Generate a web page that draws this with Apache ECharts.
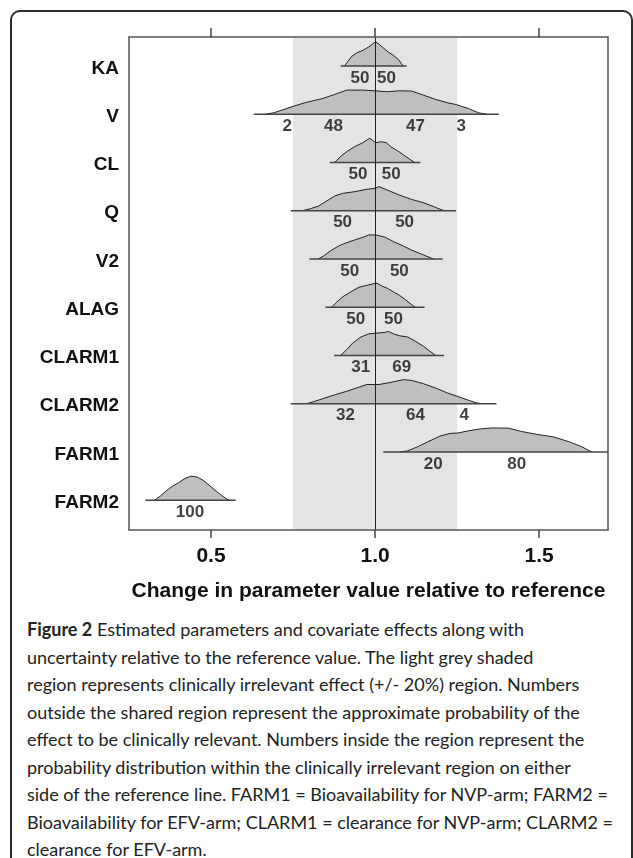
<!DOCTYPE html>
<html>
<head>
<meta charset="utf-8">
<script src="https://cdn.jsdelivr.net/npm/echarts@6/dist/echarts.min.js"></script>
<style>
  html, body { margin: 0; padding: 0; background: #fff; }
  body { width: 633px; height: 858px; position: relative; overflow: hidden; }
  #frame {
    position: absolute; left: 10px; top: 10px; width: 623px; height: 900px;
    border: 2px solid #2a2a2a; border-radius: 10px; box-sizing: border-box;
  }
  #chart { position: absolute; left: 0; top: 0; width: 633px; height: 615px; }
  #caption {
    position: absolute; left: 27px; top: 616px; width: 600px;
    font-family: Lato, 'Open Sans', sans-serif; font-size: 18px;
    line-height: 27.5px; color: #222; white-space: nowrap;
  }
  #caption b { font-weight: 700; }
</style>
</head>
<body>
<div id="frame"></div>
<div id="chart"></div>
<div id="caption">
  <div><b>Figure 2</b> Estimated parameters and covariate effects along with</div>
  <div>uncertainty relative to the reference value. The light grey shaded</div>
  <div>region represents clinically irrelevant effect (+/- 20%) region. Numbers</div>
  <div>outside the shared region represent the approximate probability of the</div>
  <div>effect to be clinically relevant. Numbers inside the region represent the</div>
  <div>probability distribution within the clinically irrelevant region on either</div>
  <div>side of the reference line. FARM1 = Bioavailability for NVP-arm; FARM2 =</div>
  <div>Bioavailability for EFV-arm; CLARM1 = clearance for NVP-arm; CLARM2 =</div>
  <div>clearance for EFV-arm.</div>
</div>
<script>
// parameters, top to bottom
const paramNames = ['KA', 'V', 'CL', 'Q', 'V2', 'ALAG', 'CLARM1', 'CLARM2', 'FARM1', 'FARM2'];

// density outlines: [ratio to reference, relative density (peak = 1)]
const densKA = [[0.907,0],[0.916,0.17],[0.929,0.40],[0.944,0.54],[0.963,0.65],[0.981,0.79],[0.994,0.93],[1.002,1],[1.012,0.90],[1.025,0.75],[1.040,0.58],[1.056,0.44],[1.072,0.26],[1.080,0.10],[1.086,0]];
const densV = [[0.667,0],[0.691,0.06],[0.716,0.17],[0.751,0.33],[0.790,0.49],[0.840,0.65],[0.877,0.82],[0.914,1],[0.963,1],[1.000,0.97],[1.037,0.93],[1.074,0.97],[1.111,0.96],[1.148,0.79],[1.185,0.61],[1.222,0.47],[1.247,0.40],[1.284,0.24],[1.315,0.06],[1.340,0]];
const densCL = [[0.877,0],[0.895,0.25],[0.914,0.45],[0.938,0.66],[0.963,0.82],[0.978,0.96],[0.985,1],[0.994,0.90],[1.002,0.82],[1.019,0.86],[1.035,0.82],[1.047,0.66],[1.068,0.49],[1.086,0.32],[1.105,0.14],[1.121,0]];
const densQ = [[0.778,0],[0.802,0.08],[0.827,0.19],[0.852,0.40],[0.877,0.61],[0.901,0.72],[0.938,0.79],[0.975,0.89],[1.000,0.93],[1.012,1],[1.037,0.86],[1.074,0.65],[1.111,0.47],[1.148,0.33],[1.179,0.17],[1.204,0.03],[1.216,0]];
const densV2 = [[0.827,0],[0.846,0.15],[0.864,0.34],[0.889,0.54],[0.914,0.68],[0.938,0.79],[0.969,0.93],[0.981,1],[1.006,0.99],[1.031,0.90],[1.056,0.72],[1.086,0.54],[1.111,0.37],[1.142,0.20],[1.173,0.03],[1.179,0]];
const densALAG = [[0.867,0],[0.883,0.21],[0.901,0.43],[0.926,0.64],[0.951,0.83],[0.975,0.91],[0.994,0.97],[1.006,1],[1.019,0.89],[1.037,0.79],[1.056,0.64],[1.074,0.50],[1.093,0.31],[1.111,0.11],[1.123,0]];
const densCLARM1 = [[0.895,0],[0.914,0.25],[0.932,0.52],[0.957,0.77],[0.981,0.90],[1.006,0.93],[1.031,0.96],[1.040,1],[1.056,0.90],[1.074,0.82],[1.099,0.77],[1.123,0.59],[1.148,0.38],[1.167,0.18],[1.185,0]];
const densCLARM2 = [[0.790,0],[0.809,0.07],[0.840,0.21],[0.877,0.37],[0.914,0.52],[0.951,0.69],[0.975,0.80],[1.012,0.80],[1.049,0.89],[1.086,1],[1.111,0.97],[1.148,0.83],[1.185,0.65],[1.222,0.44],[1.253,0.30],[1.284,0.15],[1.309,0.04],[1.327,0]];
const densFARM1 = [[1.074,0],[1.099,0.05],[1.130,0.22],[1.160,0.42],[1.198,0.66],[1.228,0.77],[1.253,0.79],[1.284,0.88],[1.321,0.96],[1.358,1],[1.407,0.99],[1.444,0.86],[1.494,0.73],[1.543,0.63],[1.593,0.42],[1.630,0.22],[1.660,0]];
const densFARM2 = [[0.327,0],[0.346,0.18],[0.364,0.40],[0.383,0.59],[0.401,0.73],[0.420,0.90],[0.438,1],[0.457,0.97],[0.475,0.84],[0.494,0.63],[0.512,0.42],[0.531,0.22],[0.549,0.04],[0.556,0]];
const densities = [densKA, densV, densCL, densQ, densV2, densALAG, densCLARM1, densCLARM2, densFARM1, densFARM2];

// baseline segment under each density (start, end ratio)
const baselineRanges = [[0.895,1.096],[0.630,1.377],[0.862,1.138],[0.743,1.247],[0.800,1.206],[0.849,1.151],[0.875,1.210],[0.743,1.370],[1.025,1.710],[0.300,0.575]];

// percentages printed under each density: [ratio, text]
const pctLabels = [
  [[0.954,'50'],[1.035,'50']],
  [[0.732,'2'],[0.873,'48'],[1.123,'47'],[1.263,'3']],
  [[0.948,'50'],[1.049,'50']],
  [[0.901,'50'],[1.090,'50']],
  [[0.923,'50'],[1.074,'50']],
  [[0.941,'50'],[1.056,'50']],
  [[0.956,'31'],[1.081,'69']],
  [[0.910,'32'],[1.123,'64'],[1.272,'4']],
  [[1.177,'20'],[1.432,'80']],
  [[0.436,'100']]
];

const xTicks = [0.5, 1.0, 1.5];
const irrelevantRange = [0.75, 1.25];
const refValue = 1.0;

const X_MIN = 0.25, X_MAX = 1.71;
const Y_MIN = 0.385, Y_MAX = 10.6;
const PEAK = 0.5;
const FONT = "'Liberation Sans', Arial, sans-serif";

const rowLevel = i => paramNames.length - i;

const series = [];

// shaded clinically irrelevant region
series.push({
  type: 'line', data: [], silent: true, z: 1,
  markArea: {
    silent: true,
    itemStyle: { color: '#e4e4e4' },
    data: [[{ xAxis: irrelevantRange[0], yAxis: Y_MIN }, { xAxis: irrelevantRange[1], yAxis: Y_MAX }]]
  }
});

densities.forEach((d, i) => {
  const base = rowLevel(i);
  series.push({
    type: 'line', z: 3, silent: true, symbol: 'none',
    data: d.map(p => [p[0], base + p[1] * PEAK]),
    lineStyle: { color: '#222', width: 1 },
    areaStyle: { color: '#bfbfbf', opacity: 1, origin: base }
  });
  series.push({
    type: 'line', z: 4, silent: true, symbol: 'none',
    data: [[baselineRanges[i][0], base], [baselineRanges[i][1], base]],
    lineStyle: { color: '#444', width: 1.5 }
  });
  series.push({
    type: 'scatter', z: 6, silent: true, symbolSize: 0,
    data: pctLabels[i].map(l => [l[0], base, l[1]]),
    label: {
      show: true, position: 'inside', offset: [0, 12],
      formatter: p => p.data[2],
      fontFamily: FONT, fontWeight: 'bold', fontSize: 17, color: '#111'
    }
  });
});

// reference line
series.push({
  type: 'line', data: [], silent: true, z: 5,
  markLine: {
    silent: true, symbol: 'none', animation: false,
    label: { show: false },
    lineStyle: { color: '#222', width: 1, type: 'solid' },
    data: [{ xAxis: refValue }]
  }
});

const chart = echarts.init(document.getElementById('chart'));
chart.setOption({
  animation: false,
  grid: { left: 129, top: 37, width: 479, height: 493 },
  xAxis: [
    {
      type: 'value', position: 'bottom', min: X_MIN, max: X_MAX, z: 10,
      name: 'Change in parameter value relative to reference',
      nameLocation: 'middle', nameGap: 51,
      nameTextStyle: { fontFamily: FONT, fontWeight: 'bold', fontSize: 21, color: '#111' },
      axisLine: { show: true, onZero: false, lineStyle: { color: '#555', width: 1.5 } },
      axisTick: { show: true, customValues: xTicks, length: 8, lineStyle: { color: '#444', width: 1.5 } },
      axisLabel: {
        customValues: xTicks, margin: 16,
        formatter: v => v.toFixed(1),
        fontFamily: FONT, fontWeight: 'bold', fontSize: 21, color: '#111'
      },
      splitLine: { show: false }
    },
    {
      type: 'value', position: 'top', min: X_MIN, max: X_MAX, z: 10,
      axisLine: { show: true, onZero: false, lineStyle: { color: '#555', width: 1.5 } },
      axisTick: { show: true, customValues: xTicks, length: 9, lineStyle: { color: '#444', width: 1.5 } },
      axisLabel: { show: false },
      splitLine: { show: false }
    }
  ],
  yAxis: [
    {
      type: 'value', position: 'left', min: Y_MIN, max: Y_MAX, z: 10,
      axisLine: { show: true, onZero: false, lineStyle: { color: '#555', width: 1.5 } },
      axisTick: { show: false },
      axisLabel: {
        // labels sit a touch below each baseline
        customValues: paramNames.map((n, i) => rowLevel(i) - 0.05), margin: 10,
        formatter: v => paramNames[paramNames.length - Math.round(v)],
        fontFamily: FONT, fontWeight: 'bold', fontSize: 19, color: '#111'
      },
      splitLine: { show: false }
    },
    {
      type: 'value', position: 'right', min: Y_MIN, max: Y_MAX, z: 10,
      axisLine: { show: true, onZero: false, lineStyle: { color: '#555', width: 1.5 } },
      axisTick: { show: false },
      axisLabel: { show: false },
      splitLine: { show: false }
    }
  ],
  series: series
});
</script>
</body>
</html>
